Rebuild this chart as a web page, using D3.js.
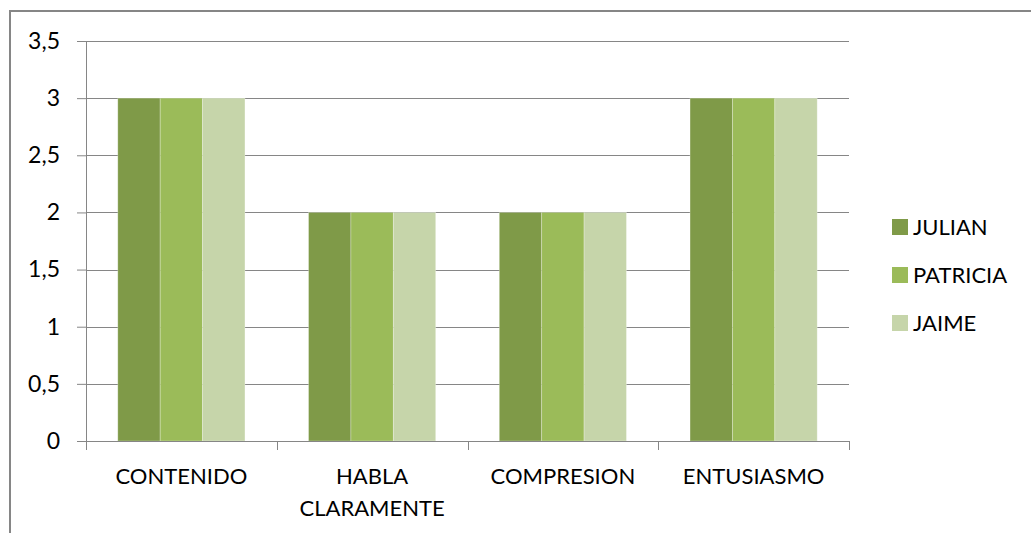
<!DOCTYPE html>
<html>
<head>
<meta charset="utf-8">
<script src="https://cdn.jsdelivr.net/npm/d3@7"></script>
<style>
  body { margin: 0; background: #fff; }
  svg { display: block; font-family: Lato, 'Open Sans', sans-serif; }
</style>
</head>
<body>
<svg id="chart" width="1031" height="533"></svg>
<script>
const categories = [['CONTENIDO'], ['HABLA', 'CLARAMENTE'], ['COMPRESION'], ['ENTUSIASMO']];
const seriesNames = ['JULIAN', 'PATRICIA', 'JAIME'];
const julian = [3, 2, 2, 3];
const patricia = [3, 2, 2, 3];
const jaime = [3, 2, 2, 3];
const yTicks = [0, 0.5, 1, 1.5, 2, 2.5, 3, 3.5];
const colors = ['#7f9a48', '#9bbb59', '#c6d5aa'];

const values = [julian, patricia, jaime];
const svg = d3.select('#chart');
const margin = { left: 86, top: 41, right: 182, bottom: 92 };
const w = 1031 - margin.left - margin.right;
const h = 533 - margin.top - margin.bottom;
const fs = 22;

// outer border (cut off at right and bottom like the reference)
svg.append('path')
  .attr('d', 'M10,533 V11 H1031')
  .attr('fill', 'none')
  .attr('stroke', '#868686')
  .attr('stroke-width', 2);

const g = svg.append('g').attr('transform', `translate(${margin.left},${margin.top})`);

const x0 = d3.scaleBand().domain(d3.range(categories.length)).range([0, w]).paddingInner(0).paddingOuter(0);
const x1 = d3.scaleBand().domain(d3.range(seriesNames.length)).range([0, x0.bandwidth()]).paddingInner(0).paddingOuter(0.75);
const y = d3.scaleLinear().domain([0, 3.5]).range([h, 0]);

// gridlines
g.selectAll('.grid').data(yTicks.filter(t => t > 0)).enter().append('line')
  .attr('x1', 0).attr('x2', w)
  .attr('y1', d => Math.round(y(d)) + 0.5).attr('y2', d => Math.round(y(d)) + 0.5)
  .attr('stroke', '#868686').attr('stroke-width', 1);

// bars
const groups = g.selectAll('.cat').data(categories).enter().append('g')
  .attr('transform', (d, i) => `translate(${x0(i)},0)`);
groups.selectAll('rect').data((d, i) => values.map((s, j) => ({ s: j, v: s[i] }))).enter().append('rect')
  .attr('x', d => x1(d.s))
  .attr('width', x1.bandwidth())
  .attr('y', d => y(d.v))
  .attr('height', d => h - y(d.v))
  .attr('fill', d => colors[d.s])
  .attr('stroke', '#fff').attr('stroke-opacity', 0.35).attr('stroke-width', 0.8);

// y axis
const yAxis = g.append('g')
  .call(d3.axisLeft(y).tickValues(yTicks).tickSize(9).tickPadding(17)
    .tickFormat(d => String(d).replace('.', ',')));
yAxis.select('.domain').remove();
yAxis.attr('font-family', null);
yAxis.selectAll('.tick line').attr('stroke', '#868686');
yAxis.selectAll('.tick text').attr('font-size', 23).attr('fill', '#000');
g.append('line').attr('x1', 0.5).attr('x2', 0.5).attr('y1', 0).attr('y2', h)
  .attr('stroke', '#868686');

// x axis
const xAxisG = g.append('g').attr('transform', `translate(0,${h})`);
xAxisG.append('line').attr('x1', 0).attr('x2', w).attr('y1', 0.5).attr('y2', 0.5).attr('stroke', '#868686');
xAxisG.selectAll('.xt').data(d3.range(categories.length + 1)).enter().append('line')
  .attr('x1', d => Math.round(d * x0.step()) + 0.5).attr('x2', d => Math.round(d * x0.step()) + 0.5)
  .attr('y1', 0).attr('y2', 9).attr('stroke', '#868686');
const labels = xAxisG.selectAll('.xl').data(categories).enter().append('text')
  .attr('x', (d, i) => x0(i) + x0.bandwidth() / 2)
  .attr('y', 43)
  .attr('text-anchor', 'middle')
  .attr('font-size', fs)
  .attr('fill', '#000');
labels.selectAll('tspan').data(d => d).enter().append('tspan')
  .attr('x', function () { return this.parentNode.getAttribute('x'); })
  .attr('dy', (d, i) => i === 0 ? 0 : 32)
  .text(d => d);

// legend
const legend = svg.append('g').attr('transform', 'translate(892,227)');
const items = legend.selectAll('g').data(seriesNames).enter().append('g')
  .attr('transform', (d, i) => `translate(0,${i * 48})`);
items.append('rect').attr('x', 0).attr('y', -8).attr('width', 16).attr('height', 16)
  .attr('fill', (d, i) => colors[i]);
items.append('text').attr('x', 21).attr('y', 0).attr('dy', '0.36em')
  .attr('font-size', fs).attr('fill', '#000').text(d => d);
</script>
</body>
</html>
